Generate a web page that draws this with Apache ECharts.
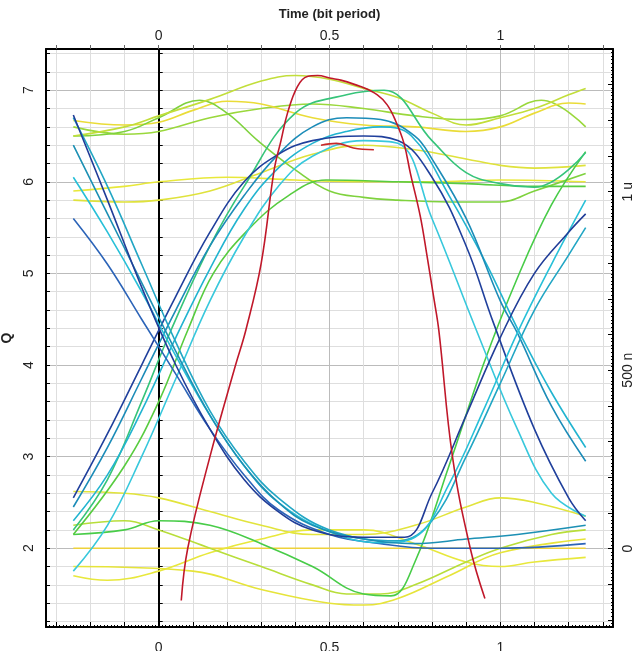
<!DOCTYPE html>
<html>
<head>
<meta charset="utf-8">
<script src="https://cdn.jsdelivr.net/npm/echarts@6/dist/echarts.min.js"></script>
<style>
  html, body { margin: 0; padding: 0; background: #fff; }
  #chart { width: 636px; height: 651px; }
</style>
</head>
<body>
<div id="chart"></div>
<script>
// axis ticks and labels
const tTicks = [-0.3, -0.2, -0.1, 0, 0.1, 0.2, 0.3, 0.4, 0.5, 0.6, 0.7, 0.8, 0.9, 1, 1.1, 1.2, 1.3];
const tLabels = [0, 0.5, 1];
const qTicks = [1.2, 1.4, 1.6, 1.8, 2, 2.2, 2.4, 2.6, 2.8, 3, 3.2, 3.4, 3.6, 3.8, 4, 4.2, 4.4, 4.6, 4.8, 5,
                5.2, 5.4, 5.6, 5.8, 6, 6.2, 6.4, 6.6, 6.8, 7, 7.2, 7.4];
const qLabels = [2, 3, 4, 5, 6, 7];
const uTicks = [-0.2, -0.1, 0, 0.1, 0.2, 0.3, 0.4, 0.5, 0.6, 0.7, 0.8, 0.9, 1, 1.1, 1.2, 1.3, 1.4];
const uLabels = [0, 0.5, 1];
const uNames = ['0', '500 n', '1 u'];

// traces [time (bit period), Q]
// falling at 0
const fallA = [[-0.25,6.73],[-0.15,5.8],[-0.05,4.85],[0.05,4.0],[0.15,3.3],[0.25,2.75],[0.35,2.4],[0.45,2.2],[0.6,2.12],[0.72,2.12],[0.8,2.6],[0.9,3.45],[1.0,4.3],[1.1,5.0],[1.2,5.45],[1.25,5.65]];
const fallB = [[-0.25,6.4],[-0.15,5.65],[-0.05,4.9],[0.05,4.15],[0.15,3.45],[0.25,2.9],[0.35,2.5],[0.45,2.25],[0.6,2.1],[0.75,2.05],[0.9,2.1],[1.05,2.15],[1.25,2.25]];
const fallC = [[-0.25,6.05],[-0.15,5.45],[-0.05,4.8],[0.05,4.1],[0.15,3.45],[0.25,2.9],[0.35,2.5],[0.5,2.18],[0.65,2.06],[0.75,2.12],[0.85,2.7],[0.95,3.5],[1.05,4.35],[1.15,5.1],[1.25,5.8]];
const fallD = [[-0.25,5.6],[-0.15,5.1],[-0.05,4.5],[0.05,3.9],[0.15,3.3],[0.25,2.8],[0.35,2.42],[0.5,2.15],[0.65,2.05],[0.8,2.0],[1.0,2.0],[1.25,2.05]];
const fallE = [[-0.25,6.7],[-0.15,5.95],[-0.05,5.1],[0.05,4.25],[0.15,3.5],[0.25,2.95],[0.35,2.55],[0.5,2.2],[0.7,2.08],[0.8,2.3],[0.9,3.0],[1.0,3.8],[1.1,4.6],[1.2,5.2],[1.25,5.5]];
// rising at 0
const riseA = [[-0.25,2.55],[-0.15,3.25],[-0.05,4.0],[0.05,4.75],[0.15,5.45],[0.25,6.0],[0.35,6.3],[0.45,6.45],[0.6,6.5],[0.7,6.45],[0.8,6.05],[0.9,5.3],[0.98,4.46],[1.1,3.3],[1.2,2.55],[1.25,2.3]];
const riseB = [[-0.25,2.45],[-0.15,3.1],[-0.05,3.85],[0.05,4.6],[0.15,5.3],[0.25,5.85],[0.35,6.3],[0.45,6.6],[0.55,6.7],[0.65,6.68],[0.75,6.5],[0.8,6.25],[0.9,5.6],[1.0,4.7],[1.05,4.35],[1.15,3.55],[1.25,2.95]];
const riseC = [[-0.25,2.3],[-0.15,2.8],[-0.05,3.5],[0.05,4.3],[0.15,5.05],[0.25,5.7],[0.35,6.15],[0.45,6.42],[0.55,6.55],[0.65,6.6],[0.74,6.5],[0.85,5.85],[0.96,5.1],[1.05,4.4],[1.15,3.7],[1.25,3.1]];
const riseD = [[-0.25,1.75],[-0.15,2.25],[-0.05,3.0],[0.05,3.85],[0.15,4.7],[0.25,5.4],[0.35,5.95],[0.45,6.28],[0.6,6.45],[0.7,6.42],[0.8,5.6],[0.93,4.38],[1.05,3.3],[1.15,2.6],[1.25,2.35]];
const riseE = [[-0.25,2.15],[-0.1,2.9],[0,3.6],[0.085,4.38],[0.16,5.0],[0.26,5.47],[0.38,5.85],[0.49,6.02],[0.7,6.0],[0.9,5.98],[1.1,5.95],[1.25,5.95]];
const riseF = [[-0.25,2.2],[-0.15,2.75],[-0.05,3.6],[0.036,4.38],[0.15,5.3],[0.25,5.95],[0.4,6.75],[0.55,6.95],[0.66,7.0],[0.8,6.45],[0.9,6.1],[1.0,5.98],[1.1,5.94],[1.25,6.32]];
// staying high
const highA = [[-0.25,6.67],[-0.1,6.62],[0,6.65],[0.1,6.78],[0.2,6.88],[0.3,6.85],[0.45,6.7],[0.6,6.62],[0.75,6.6],[0.9,6.55],[1.0,6.6],[1.1,6.75],[1.2,6.86],[1.25,6.85]];
const highB = [[-0.25,6.5],[-0.1,6.6],[0,6.72],[0.15,6.9],[0.3,7.1],[0.4,7.16],[0.5,7.12],[0.6,7.02],[0.7,6.92],[0.8,6.75],[0.9,6.62],[1.0,6.7],[1.1,6.8],[1.2,6.95],[1.25,7.02]];
const highC = [[-0.25,6.6],[-0.1,6.52],[0,6.55],[0.15,6.7],[0.3,6.8],[0.45,6.85],[0.6,6.8],[0.75,6.72],[0.9,6.68],[1.0,6.72],[1.12,6.89],[1.25,6.6]];
const highD = [[-0.25,6.5],[-0.1,6.55],[0,6.7],[0.12,6.89],[0.2,6.75],[0.29,6.45],[0.4,6.13],[0.5,5.9],[0.6,5.83],[0.7,5.8],[0.85,5.78],[1.0,5.78],[1.1,5.9],[1.25,6.09]];
const highE = [[-0.25,5.9],[-0.1,5.95],[0,6.0],[0.2,6.05],[0.4,6.02],[0.6,6.0],[0.8,6.0],[1.0,6.02],[1.25,6.0]];
const highF = [[-0.25,5.8],[-0.1,5.78],[0,5.8],[0.15,5.9],[0.3,6.1],[0.45,6.3],[0.6,6.4],[0.75,6.35],[0.9,6.25],[1.0,6.18],[1.1,6.15],[1.25,6.18]];
// staying low
const lowA = [[-0.25,2.0],[0,2.0],[0.25,2.0],[0.5,2.0],[0.75,2.0],[1.0,2.0],[1.25,2.0]];
const lowB = [[-0.25,2.62],[-0.1,2.6],[0,2.55],[0.15,2.4],[0.3,2.25],[0.45,2.15],[0.6,2.15],[0.75,2.25],[0.9,2.45],[1.0,2.55],[1.1,2.5],[1.25,2.35]];
const lowC = [[-0.25,1.7],[-0.15,1.65],[0,1.75],[0.15,1.95],[0.3,2.1],[0.45,2.2],[0.6,2.2],[0.75,2.05],[0.9,1.85],[1.0,1.8],[1.1,1.85],[1.25,1.9]];
const lowD = [[-0.25,2.25],[-0.1,2.3],[0,2.2],[0.15,2.0],[0.3,1.8],[0.45,1.6],[0.55,1.5],[0.65,1.5],[0.75,1.6],[0.9,1.85],[1.0,2.0],[1.15,2.15],[1.25,2.2]];
const lowE = [[-0.25,1.8],[0.1,1.75],[0.3,1.55],[0.5,1.4],[0.6,1.38],[0.7,1.45],[0.85,1.7],[1.0,1.95],[1.25,2.1]];
const lowF = [[-0.25,2.15],[-0.1,2.2],[0,2.3],[0.15,2.25],[0.3,2.05],[0.45,1.8],[0.6,1.5],[0.68,1.48],[0.75,1.85],[0.85,2.9],[0.95,4.0],[1.05,4.95],[1.15,5.75],[1.25,6.33]];
// isolated pulse
const pulse = [[0.066,1.43],[0.085,2.0],[0.15,3.0],[0.225,4.0],[0.255,4.38],[0.3,5.11],[0.338,6.13],[0.358,6.45],[0.377,6.75],[0.406,7.04],[0.435,7.15],[0.465,7.16],[0.504,7.13],[0.533,7.11],[0.591,7.04],[0.64,6.95],[0.669,6.84],[0.693,6.67],[0.718,6.42],[0.737,6.09],[0.766,5.62],[0.786,5.18],[0.805,4.74],[0.82,4.38],[0.86,3.0],[0.912,2.0],[0.955,1.45]];
const redBit = [[0.475,6.4],[0.52,6.42],[0.57,6.37],[0.63,6.35]];

const traces = [
  { data: highE, color: '#e8e83a' },
  { data: highF, color: '#dfe23c' },
  { data: highC, color: '#9ad83c' },
  { data: highA, color: '#eadc38' },
  { data: highD, color: '#7fd23e' },
  { data: highB, color: '#c2de3a' },
  { data: lowA, color: '#eed23a' },
  { data: lowB, color: '#e2e43c' },
  { data: lowC, color: '#e8e83c' },
  { data: lowD, color: '#b8de3a' },
  { data: lowE, color: '#e6e43a' },
  { data: lowF, color: '#48cc48' },
  { data: riseE, color: '#58cc40' },
  { data: riseF, color: '#36c47a' },
  { data: riseD, color: '#38c8dc' },
  { data: riseC, color: '#22b4d0' },
  { data: riseB, color: '#1c8cb8' },
  { data: riseA, color: '#20409c' },
  { data: fallE, color: '#22a6c4' },
  { data: fallD, color: '#2c64b8' },
  { data: fallC, color: '#28c0d8' },
  { data: fallB, color: '#1c90b4' },
  { data: fallA, color: '#213d98' },
  { data: redBit, color: '#c82828' },
  { data: pulse, color: '#c0182a' }
];

const tMin = -0.33, tMax = 1.33;
const qMin = 1.14, qMax = 7.45;
const uMin = -0.22, uMax = 1.4;

const chart = echarts.init(document.getElementById('chart'), null, { renderer: 'canvas' });

const lightGrid = '#dedede';
const darkGrid = '#bbbbbb';
const labelStyle = { color: '#222', fontSize: 14, fontFamily: 'Liberation Sans, Arial, sans-serif' };

const option = {
  animation: false,
  backgroundColor: '#fff',
  grid: { left: 46, right: 23, top: 49, bottom: 24, outerBoundsMode: 'none' },
  xAxis: [
    {
      type: 'value', position: 'bottom', min: tMin, max: tMax,
      axisLine: { onZero: false, lineStyle: { color: '#000', width: 2 } },
      axisTick: { customValues: tTicks, inside: true, length: 5, lineStyle: { color: '#000' } },
      axisLabel: Object.assign({ customValues: tLabels, margin: 14 }, labelStyle),
      splitLine: { show: true, lineStyle: { color: [lightGrid, lightGrid, lightGrid, darkGrid, lightGrid], width: 1 } }
    },
    {
      type: 'value', position: 'top', min: tMin, max: tMax,
      name: 'Time (bit period)', nameLocation: 'middle', nameGap: 28,
      nameTextStyle: { fontWeight: 'bold', fontSize: 13, color: '#222', fontFamily: 'Liberation Sans, Arial, sans-serif' },
      axisLine: { onZero: false, lineStyle: { color: '#000', width: 2 } },
      axisTick: { customValues: tTicks, inside: false, length: 4, lineStyle: { color: '#666' } },
      axisLabel: Object.assign({ customValues: tLabels, margin: 6 }, labelStyle),
      splitLine: { show: false }
    },
    {
      type: 'value', position: 'bottom', min: tMin, max: tMax, interval: 0.01,
      axisLine: { show: false, onZero: false },
      axisTick: { inside: true, length: 2, lineStyle: { color: '#000' } },
      axisLabel: { show: false },
      splitLine: { show: false }
    }
  ],
  yAxis: [
    {
      type: 'value', position: 'left', min: qMin, max: qMax,
      name: 'Q', nameLocation: 'middle', nameGap: 24, nameRotate: 90,
      nameTextStyle: { fontWeight: 'bold', fontSize: 14, color: '#222', fontFamily: 'Liberation Sans, Arial, sans-serif' },
      axisLine: { onZero: false, lineStyle: { color: '#000', width: 2 } },
      axisTick: { customValues: qTicks, inside: true, length: 4, lineStyle: { color: '#000' } },
      axisLabel: Object.assign({ customValues: qLabels, rotate: 90, margin: 10 }, labelStyle),
      splitLine: { show: true, lineStyle: { color: [lightGrid, lightGrid, lightGrid, lightGrid, darkGrid], width: 1 } }
    },
    {
      type: 'value', position: 'right', min: uMin, max: uMax,
      axisLine: { onZero: false, lineStyle: { color: '#000', width: 2 } },
      axisTick: { customValues: uTicks, inside: true, length: 5, lineStyle: { color: '#000' } },
      axisLabel: Object.assign({
        customValues: uLabels, rotate: 90, margin: 8,
        formatter: function (v) {
          const i = uLabels.findIndex(function (u) { return Math.abs(u - v) < 1e-6; });
          return i >= 0 ? uNames[i] : '';
        }
      }, labelStyle),
      splitLine: { show: false }
    },
    {
      type: 'value', position: 'right', min: uMin, max: uMax, interval: 0.01,
      axisLine: { show: false, onZero: false },
      axisTick: { inside: true, length: 2, lineStyle: { color: '#000' } },
      axisLabel: { show: false },
      splitLine: { show: false }
    },
    {
      // black line at t = 0
      type: 'value', position: 'left', min: qMin, max: qMax,
      axisLine: { onZero: true, onZeroAxisIndex: 0, lineStyle: { color: '#000', width: 2 } },
      axisTick: { customValues: qTicks, inside: true, length: 4, lineStyle: { color: '#000' } },
      axisLabel: { show: false },
      splitLine: { show: false }
    }
  ],
  series: traces.map(function (tr) {
    return {
      type: 'line', xAxisIndex: 0, yAxisIndex: 0, data: tr.data,
      showSymbol: false, smooth: 0.4, silent: true,
      lineStyle: { color: tr.color, width: 1.6 }
    };
  })
};

chart.setOption(option);
</script>
</body>
</html>
